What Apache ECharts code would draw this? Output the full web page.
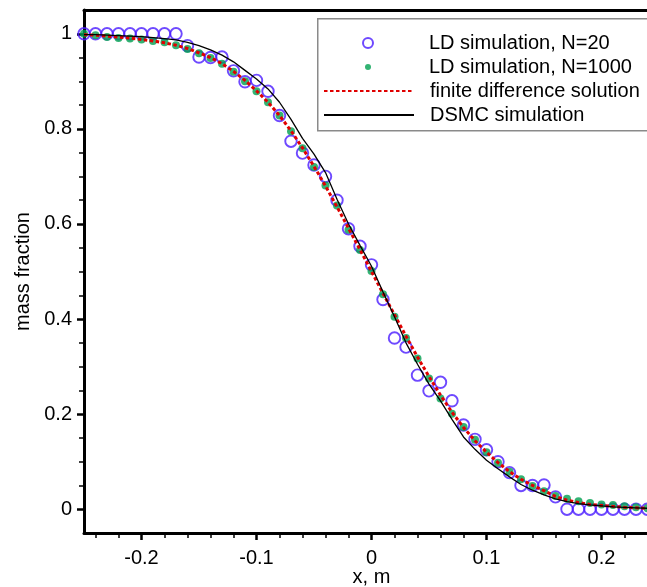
<!DOCTYPE html>
<html>
<head>
<meta charset="utf-8">
<script src="https://cdn.jsdelivr.net/npm/echarts@6/dist/echarts.min.js"></script>
<style>
html,body{margin:0;padding:0;background:#fff;}
#chart{width:647px;height:587px;}
</style>
</head>
<body>
<div id="chart"></div>
<script>
// ---- data ----
var xPos = [-0.25,-0.24,-0.23,-0.22,-0.21,-0.2,-0.19,-0.18,-0.17,-0.16,-0.15,-0.14,-0.13,-0.12,-0.11,-0.1,-0.09,-0.08,-0.07,-0.06,-0.05,-0.04,-0.03,-0.02,-0.01,0,0.01,0.02,0.03,0.04,0.05,0.06,0.07,0.08,0.09,0.1,0.11,0.12,0.13,0.14,0.15,0.16,0.17,0.18,0.19,0.2,0.21,0.22,0.23,0.24,0.25];
var ldN20 = [1.0,1.0,1.0,1.0,1.0,1.0,1.0,1.0,1.0,0.975,0.951,0.95,0.951,0.922,0.899,0.902,0.879,0.828,0.774,0.749,0.724,0.700,0.650,0.590,0.553,0.514,0.441,0.360,0.341,0.282,0.249,0.267,0.228,0.177,0.147,0.125,0.100,0.077,0.050,0.050,0.051,0.026,0,0,0,0,0,0,0,0,0];
var ldN1000 = [1.0,0.997,0.993,0.991,0.990,0.988,0.985,0.982,0.976,0.968,0.959,0.949,0.937,0.920,0.900,0.879,0.856,0.828,0.795,0.759,0.720,0.681,0.639,0.588,0.545,0.501,0.452,0.405,0.360,0.317,0.275,0.233,0.201,0.173,0.146,0.120,0.098,0.079,0.063,0.049,0.038,0.028,0.022,0.017,0.013,0.010,0.009,0.006,0.004,0.002,0.0];
var finiteDiff = [0.998,0.997,0.995,0.993,0.991,0.988,0.985,0.981,0.976,0.969,0.960,0.950,0.937,0.921,0.902,0.880,0.856,0.828,0.796,0.760,0.721,0.680,0.636,0.591,0.546,0.500,0.454,0.409,0.364,0.320,0.279,0.240,0.204,0.172,0.144,0.120,0.098,0.079,0.063,0.050,0.039,0.027,0.019,0.014,0.010,0.008,0.006,0.004,0.003,0.002,0.001];
var dsmc = [0.998,0.998,0.997,0.996,0.995,0.994,0.992,0.990,0.987,0.982,0.975,0.966,0.955,0.941,0.923,0.905,0.884,0.856,0.820,0.780,0.747,0.708,0.652,0.600,0.555,0.511,0.457,0.405,0.350,0.305,0.263,0.228,0.189,0.152,0.126,0.103,0.085,0.068,0.052,0.040,0.030,0.022,0.016,0.012,0.009,0.007,0.005,0.004,0.003,0.002,0.001];

var xMajorTicks = [-0.2,-0.1,0,0.1,0.2];
var xMinorTicks = [-0.24,-0.22,-0.18,-0.16,-0.14,-0.12,-0.08,-0.06,-0.04,-0.02,0.02,0.04,0.06,0.08,0.12,0.14,0.16,0.18,0.22,0.24];
var yMajorTicks = [0,0.2,0.4,0.6,0.8,1];
var yMinorTicks = [0.05,0.1,0.15,0.25,0.3,0.35,0.45,0.5,0.55,0.65,0.7,0.75,0.85,0.9,0.95];

var seriesNames = ['LD simulation, N=20','LD simulation, N=1000','finite difference solution','DSMC simulation'];

function zip(xs, ys){ return xs.map(function(x,i){ return [x, ys[i]]; }); }

var FONT = 'Liberation Sans, Arial, sans-serif';
var chart = echarts.init(document.getElementById('chart'), null, {renderer:'canvas'});

function legendRow(name, left, top, itemHeight, hideSymbol){
  var l = {
    data:[name], orient:'vertical', left:left, top:top, padding:0,
    itemWidth:90, itemHeight:itemHeight, selectedMode:false, z:10,
    textStyle:{fontFamily:FONT, fontSize:20, color:'#000', lineHeight:24, padding:[0,0,0,11]}
  };
  if (hideSymbol) l.itemStyle = {opacity:0};
  return l;
}

var option = {
  backgroundColor:'#fff',
  animation:false,
  grid:{left:84, right:-12, top:10, bottom:54, containLabel:false, outerBoundsMode:'none'},
  graphic:[{type:'rect', left:317, top:18, z:5, shape:{width:345, height:112}, style:{fill:'#fff', stroke:'#8a8a8a', lineWidth:1.5}}],
  legend:[
    legendRow(seriesNames[0], 362, 31, 10, false),
    legendRow(seriesNames[1], 365, 55, 6, false),
    legendRow(seriesNames[2], 323, 79, 24, true),
    legendRow(seriesNames[3], 323, 103, 24, true)
  ],
  xAxis:[
    {type:'value', min:-0.25, max:0.25, position:'bottom',
     name:'x, m', nameLocation:'middle', nameGap:34, nameMoveOverlap:false,
     nameTextStyle:{fontFamily:FONT, fontSize:20, color:'#000'},
     axisLine:{show:true, onZero:false, lineStyle:{color:'#000', width:3}},
     axisTick:{show:true, inside:false, length:7, customValues:xMajorTicks, lineStyle:{color:'#000', width:2.5}},
     axisLabel:{show:true, customValues:xMajorTicks, margin:15, fontFamily:FONT, fontSize:20, color:'#000'},
     splitLine:{show:false}},
    {type:'value', min:-0.25, max:0.25, position:'bottom',
     axisLine:{show:false, onZero:false},
     axisTick:{show:true, length:5, customValues:xMinorTicks, lineStyle:{color:'#000', width:1.5}},
     axisLabel:{show:false}, splitLine:{show:false}},
    {type:'value', min:-0.25, max:0.25, position:'top',
     axisLine:{show:true, onZero:false, lineStyle:{color:'#000', width:3}},
     axisTick:{show:false}, axisLabel:{show:false}, splitLine:{show:false}}
  ],
  yAxis:[
    {type:'value', min:-0.05, max:1.05, position:'left',
     name:'mass fraction', nameLocation:'middle', nameGap:51, nameMoveOverlap:false,
     nameTextStyle:{fontFamily:FONT, fontSize:20, color:'#000'},
     axisLine:{show:true, onZero:false, lineStyle:{color:'#000', width:3}},
     axisTick:{show:true, length:7, customValues:yMajorTicks, lineStyle:{color:'#000', width:2.5}},
     axisLabel:{show:true, customValues:yMajorTicks, margin:12, fontFamily:FONT, fontSize:20, color:'#000'},
     splitLine:{show:false}},
    {type:'value', min:-0.05, max:1.05, position:'left',
     axisLine:{show:false, onZero:false},
     axisTick:{show:true, length:5, customValues:yMinorTicks, lineStyle:{color:'#000', width:1.5}},
     axisLabel:{show:false}, splitLine:{show:false}}
  ],
  series:[
    {name:seriesNames[0], type:'scatter', xAxisIndex:0, yAxisIndex:0, data:zip(xPos, ldN20),
     symbol:'circle', symbolSize:11.5,
     itemStyle:{color:'rgba(0,0,0,0)', borderColor:'#4a1cff', borderWidth:1.9}},
    {name:seriesNames[1], type:'scatter', xAxisIndex:0, yAxisIndex:0, data:zip(xPos, ldN1000),
     symbol:'circle', symbolSize:8,
     itemStyle:{color:'#00a050'}},
    {name:seriesNames[2], type:'line', xAxisIndex:0, yAxisIndex:0, data:zip(xPos, finiteDiff),
     symbol:'none', showSymbol:false,
     lineStyle:{color:'#e00000', width:3, type:[3.5,2.5]}, itemStyle:{color:'#e00000'}},
    {name:seriesNames[3], type:'line', xAxisIndex:0, yAxisIndex:0, data:zip(xPos, dsmc),
     symbol:'none', showSymbol:false,
     lineStyle:{color:'#000', width:1.3}, itemStyle:{color:'#000'}}
  ]
};
chart.setOption(option);
</script>
</body>
</html>
